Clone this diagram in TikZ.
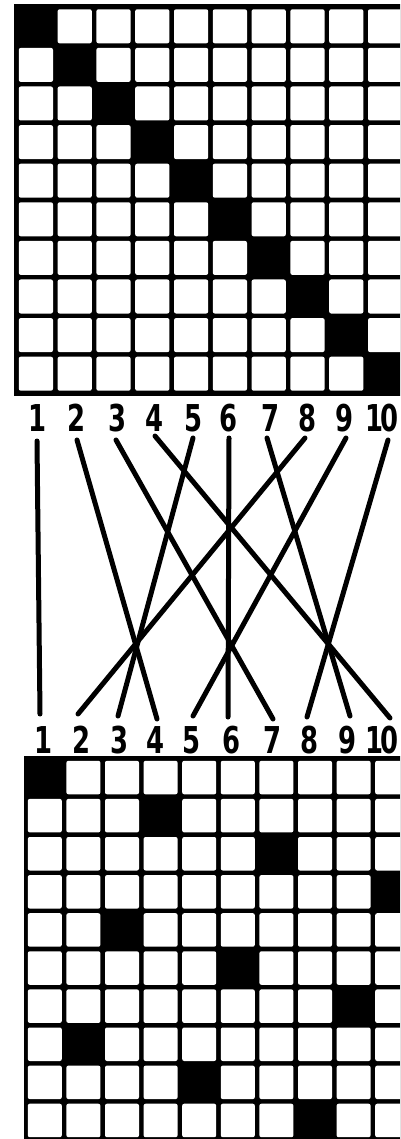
\documentclass[tikz,border=0pt]{standalone}
\usepackage{fontspec}
\newfontfamily\labfont{DejaVu Sans}[FakeStretch=0.7]
\begin{document}
\begin{tikzpicture}[x=1pt,y=-1pt,
  lab/.style={font=\labfont\bfseries\fontsize{37}{37}\selectfont, inner sep=0pt, anchor=center},
  wire/.style={line width=5pt, line cap=round},
  cellw/.style={fill=white, rounded corners=2pt}]
\useasboundingbox (0,0) rectangle (400,1139);
\clip (0,0) rectangle (400,1139);
% ---------- top grid ----------
\fill[black] (14,4.5) rectangle (410,395.5);
\foreach \r in {1,...,10} {
  \foreach \c in {1,...,10} {
    \ifnum\r=\c\relax\else
      \pgfmathsetmacro\xa{16.5+38.8*(\c-1)+2.3}
      \pgfmathsetmacro\xb{16.5+38.8*\c-2.3}
      \pgfmathsetmacro\ya{7+38.6*(\r-1)+2.3}
      \pgfmathsetmacro\yb{7+38.6*\r-2.3}
      \path[cellw] (\xa,\ya) rectangle (\xb,\yb);
    \fi
  }
}
% ---------- bottom grid ----------
\fill[black] (23.5,756) rectangle (420,1145);
\foreach \r/\k in {1/1,2/4,3/7,4/10,5/3,6/6,7/9,8/2,9/5,10/8} {
  \foreach \c in {1,...,10} {
    \ifnum\c=\k\relax\else
      \pgfmathsetmacro\xa{25.5+38.6*(\c-1)+2.3}
      \pgfmathsetmacro\xb{25.5+38.6*\c-2.3}
      \pgfmathsetmacro\ya{758.5+38.1*(\r-1)+2.3}
      \pgfmathsetmacro\yb{758.5+38.1*\r-2.3}
      \path[cellw] (\xa,\ya) rectangle (\xb,\yb);
    \fi
  }
}
% ---------- labels ----------
\foreach \i/\x in {1/38,2/77,3/118,4/155,5/194,6/229,7/271,8/308,9/345}
  \node[lab] (t\i) at (\x,418) {\i};
\node[lab] (t10) at (382,418) {1\kern-3pt0};
\foreach \i/\x in {1/44,2/82,3/120,4/156,5/192,6/232,7/273,8/310,9/348}
  \node[lab] (b\i) at (\x,740) {\i};
\node[lab] (b10) at (382,740) {1\kern-3pt0};
% ---------- wire ends ----------
\foreach \i/\x/\y in {1/37/441,2/77/440,3/116/440,4/155/436,5/193/438,6/229/438,7/267/438,8/305/438,9/346/438,10/388/440}
  \coordinate (u\i) at (\x,\y);
\foreach \i/\x/\y in {1/40/714,2/78/714,3/118/716,4/157/719,5/193/716,6/228/717,7/273/719,8/307/717,9/350/716,10/390/718}
  \coordinate (d\i) at (\x,\y);
\foreach \a/\b in {1/1,2/4,3/7,4/10,5/3,6/6,7/9,8/2,9/5,10/8}
  \draw[wire] (u\a) -- (d\b);
\end{tikzpicture}
\end{document}
